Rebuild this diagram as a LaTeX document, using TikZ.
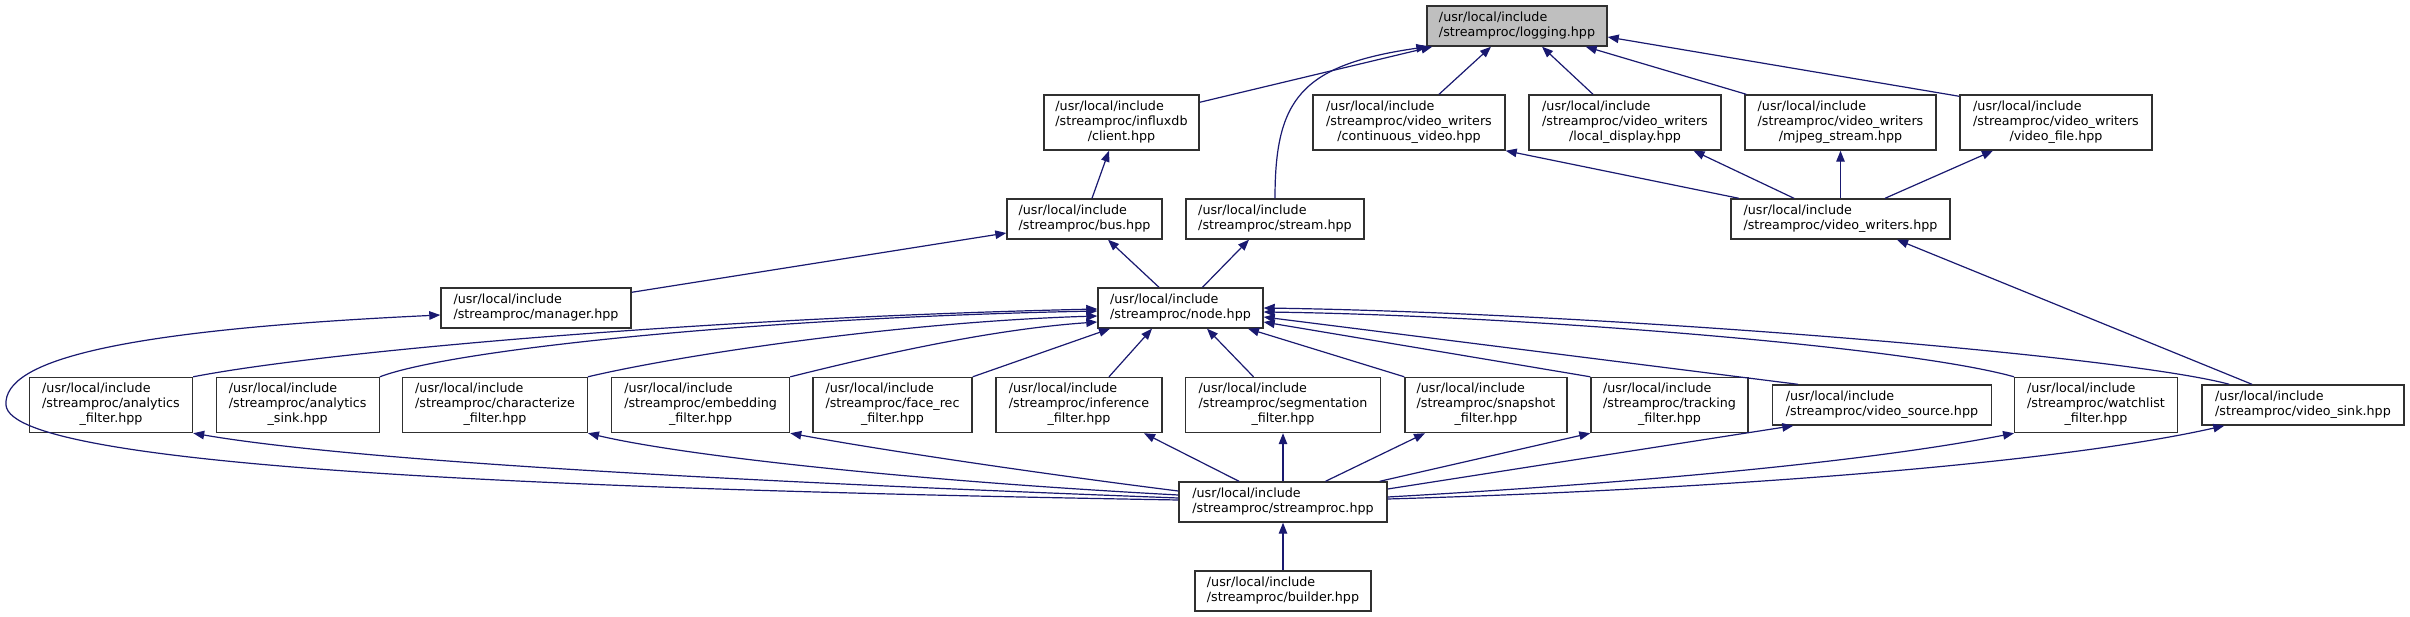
\documentclass[tikz,border=0pt]{standalone}
\usepackage{fontspec}
\setmainfont{DejaVu Sans}
\usetikzlibrary{arrows.meta}
\definecolor{mb}{HTML}{191970}
\definecolor{bd}{HTML}{303030}
\definecolor{gf}{HTML}{BFBFBF}
\newcommand\twol[2]{\begin{tabular}{@{}l@{}}#1\\#2\end{tabular}}
\newcommand\threel[3]{\begin{tabular}{@{}l@{}}#1\\#2\\\multicolumn{1}{@{}c@{}}{#3}\end{tabular}}
\newcommand\uli{/usr/local/include}
\begin{document}
\begin{tikzpicture}[x=1pt,y=-1pt,
  box/.style={draw=bd, line width=1.4pt, fill=white, inner sep=0pt, font=\fontsize{12.7}{15}\selectfont},
  two/.style={minimum height=40pt},
  three/.style={minimum height=55pt},
  dep/.style={draw=mb, line width=1.2pt, -{Triangle[length=11pt,width=8.5pt]}}]
\useasboundingbox[fill=white] (0,0) rectangle (2410,617);
% row 0
\node[box,two,fill=gf,minimum width=180pt] (logging) at (1517,26) {\twol{\uli}{/streamproc/logging.hpp}};
% row 1
\node[box,three,minimum width=155pt] (client) at (1121.5,122.5) {\threel{\uli}{/streamproc/influxdb}{/client.hpp}};
\node[box,three,minimum width=192pt] (continuous) at (1409,122.5) {\threel{\uli}{/streamproc/video\_writers}{/continuous\_video.hpp}};
\node[box,three,minimum width=192pt] (localdisplay) at (1625,122.5) {\threel{\uli}{/streamproc/video\_writers}{/local\_display.hpp}};
\node[box,three,minimum width=191pt] (mjpeg) at (1840.5,122.5) {\threel{\uli}{/streamproc/video\_writers}{/mjpeg\_stream.hpp}};
\node[box,three,minimum width=192pt] (videofile) at (2056,122.5) {\threel{\uli}{/streamproc/video\_writers}{/video\_file.hpp}};
% row 2
\node[box,two,minimum width=155pt] (bus) at (1084.5,219) {\twol{\uli}{/streamproc/bus.hpp}};
\node[box,two,minimum width=178pt] (stream) at (1275,219) {\twol{\uli}{/streamproc/stream.hpp}};
\node[box,two,minimum width=219pt] (vw) at (1840.5,219) {\twol{\uli}{/streamproc/video\_writers.hpp}};
% row 3
\node[box,two,minimum width=190pt] (manager) at (536,308) {\twol{\uli}{/streamproc/manager.hpp}};
\node[box,two,minimum width=165pt] (nodeh) at (1180.5,308) {\twol{\uli}{/streamproc/node.hpp}};
% row 4
\node[box,three,minimum width=163pt] (af) at (111,405) {\threel{\uli}{/streamproc/analytics}{\_filter.hpp}};
\node[box,three,minimum width=163pt] (as) at (297.7,405) {\threel{\uli}{/streamproc/analytics}{\_sink.hpp}};
\node[box,three,minimum width=184.5pt] (ch) at (495,405) {\threel{\uli}{/streamproc/characterize}{\_filter.hpp}};
\node[box,three,minimum width=178pt] (em) at (700.6,405) {\threel{\uli}{/streamproc/embedding}{\_filter.hpp}};
\node[box,three,minimum width=159pt] (fr) at (892.5,405) {\threel{\uli}{/streamproc/face\_rec}{\_filter.hpp}};
\node[box,three,minimum width=166pt] (inf) at (1079,405) {\threel{\uli}{/streamproc/inference}{\_filter.hpp}};
\node[box,three,minimum width=195pt] (seg) at (1283,405) {\threel{\uli}{/streamproc/segmentation}{\_filter.hpp}};
\node[box,three,minimum width=162pt] (snap) at (1486,405) {\threel{\uli}{/streamproc/snapshot}{\_filter.hpp}};
\node[box,three,minimum width=157pt] (trk) at (1669.5,405) {\threel{\uli}{/streamproc/tracking}{\_filter.hpp}};
\node[box,two,minimum width=219pt] (vsrc) at (1882,405) {\twol{\uli}{/streamproc/video\_source.hpp}};
\node[box,three,minimum width=162.5pt] (wl) at (2096,405) {\threel{\uli}{/streamproc/watchlist}{\_filter.hpp}};
\node[box,two,minimum width=202pt] (vsink) at (2303,405) {\twol{\uli}{/streamproc/video\_sink.hpp}};
% row 5, 6
\node[box,two,minimum width=208pt] (sp) at (1283,502) {\twol{\uli}{/streamproc/streamproc.hpp}};
\node[box,two,minimum width=176pt] (builder) at (1283,591) {\twol{\uli}{/streamproc/builder.hpp}};
% edges into logging
\draw[dep] ([yshift=-8pt]client.north east) -- ([xshift=6pt]logging.south west);
\draw[dep] (stream.north) .. controls (1275,100) and (1300,65) .. ([xshift=1pt]logging.south west);
\draw[dep] ([xshift=30pt]continuous.north) -- ([xshift=-26pt]logging.south);
\draw[dep] ([xshift=-32pt]localdisplay.north) -- ([xshift=25pt]logging.south);
\draw[dep] ([xshift=2pt]mjpeg.north west) -- ([xshift=-22pt]logging.south east);
\draw[dep] ([yshift=-2pt]videofile.north west) -- ([yshift=-11pt]logging.east);
% upper edges
\draw[dep] ([xshift=7.5pt]bus.north) -- ([xshift=-12.5pt]client.south);
\draw[dep] ([yshift=-5pt]manager.north east) -- ([yshift=-14pt]bus.west);
\draw[dep] ([xshift=-21.5pt]nodeh.north) -- ([xshift=23.5pt]bus.south);
\draw[dep] ([xshift=22pt]nodeh.north) -- ([xshift=-26pt]stream.south);
\draw[dep] ([xshift=8.5pt]vw.north west) -- (continuous.south east);
\draw[dep] ([xshift=-46.5pt]vw.north) -- ([xshift=68.5pt]localdisplay.south);
\draw[dep] (vw.north) -- (mjpeg.south);
\draw[dep] ([xshift=44.5pt]vw.north) -- ([xshift=-63pt]videofile.south);
\draw[dep] ([xshift=-51pt]vsink.north) -- ([xshift=56.5pt]vw.south);
% streamproc -> manager loop
\draw[dep] ([yshift=2pt]sp.west) .. controls (600,490) and (10,470) .. (6,405) .. controls (3,360) and (120,330) .. ([yshift=-7pt]manager.west);
% edges into node
\draw[dep] (af.north east) .. controls (320,352) and (700,318) .. ([yshift=-1pt]nodeh.west);
\draw[dep] (as.north east) .. controls (450,350) and (750,318) .. ([yshift=-3pt]nodeh.west);
\draw[dep] (ch.north east) .. controls (680,355) and (900,322) .. ([yshift=-8pt]nodeh.west);
\draw[dep] (em.north east) .. controls (850,362) and (980,330) .. ([yshift=-14pt]nodeh.west);
\draw[dep] (fr.north east) -- ([xshift=-70.5pt]nodeh.south);
\draw[dep] ([xshift=30pt]inf.north) -- ([xshift=-28.5pt]nodeh.south);
\draw[dep] ([xshift=-29.5pt]seg.north) -- ([xshift=26.5pt]nodeh.south);
\draw[dep] (snap.north west) -- ([xshift=67.5pt]nodeh.south);
\draw[dep] (trk.north west) -- ([yshift=-14pt]nodeh.east);
\draw[dep] ([xshift=-84pt]vsrc.north) -- ([yshift=-9pt]nodeh.east);
\draw[dep] (wl.north west) .. controls (1900,345) and (1500,315) .. ([yshift=-4pt]nodeh.east);
\draw[dep] ([xshift=28pt]vsink.north west) .. controls (2120,355) and (1600,313) .. (nodeh.east);
% edges out of streamproc
\draw[dep] ([yshift=4pt]sp.west) .. controls (700,480) and (350,460) .. (af.south east);
\draw[dep] ([yshift=7pt]sp.west) .. controls (900,480) and (680,455) .. (ch.south east);
\draw[dep] ([yshift=11pt]sp.west) .. controls (1050,475) and (880,450) .. (em.south east);
\draw[dep] ([xshift=-44pt]sp.north) -- ([xshift=65pt]inf.south);
\draw[dep] (sp.north) -- (seg.south);
\draw[dep] ([xshift=42.5pt]sp.north) -- ([xshift=-61pt]snap.south);
\draw[dep] ([xshift=-8pt]sp.north east) -- (trk.south west);
\draw[dep] ([yshift=13pt]sp.east) -- ([xshift=21.5pt]vsrc.south west);
\draw[dep] ([yshift=5pt]sp.east) .. controls (1600,485) and (1850,465) .. (wl.south west);
\draw[dep] ([yshift=3pt]sp.east) .. controls (1700,490) and (2050,465) .. ([xshift=23pt]vsink.south west);
\draw[dep] (builder.north) -- (sp.south);
\end{tikzpicture}
\end{document}
